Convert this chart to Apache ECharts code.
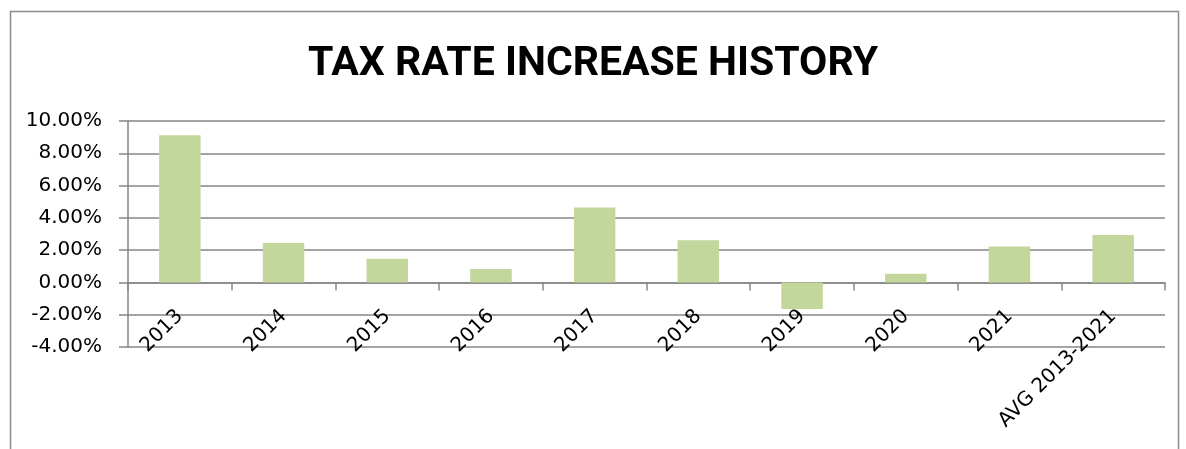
<!DOCTYPE html>
<html>
<head>
<meta charset="utf-8">
<script src="https://cdn.jsdelivr.net/npm/echarts@6/dist/echarts.min.js"></script>
<style>
html,body{margin:0;padding:0;background:#fff;}
#c{width:1186px;height:449px;}
</style>
</head>
<body>
<div id="c"></div>
<script>
const titleText = 'TAX RATE INCREASE HISTORY';
const categories = ['2013','2014','2015','2016','2017','2018','2019','2020','2021','AVG 2013-2021'];
const rates = [9.11, 2.45, 1.47, 0.83, 4.64, 2.61, -1.65, 0.54, 2.22, 2.94];
const yMin = -4, yMax = 10, yStep = 2;

const chart = echarts.init(document.getElementById('c'), null, {renderer:'canvas'});
chart.setOption({
  animation:false,
  backgroundColor:'#fff',
  graphic:[{type:'rect', left:8, top:9, shape:{width:1168, height:460}, style:{fill:'none', stroke:'#8c8c8c', lineWidth:1.5}, silent:true, z:-1}],
  title:{text:titleText, left:'center', top:39, textStyle:{fontFamily:'Roboto', fontWeight:'bold', fontSize:41, color:'#000'}},
  grid:{left:128, right:21, top:121, bottom:102, containLabel:false, outerBoundsMode:'none'},
  xAxis:{type:'category', data:categories,
    axisLine:{onZero:true, lineStyle:{color:'#868686', width:1.5}},
    axisTick:{show:true, alignWithLabel:false, length:8, lineStyle:{color:'#868686', width:1.5}},
    axisLabel:{interval:0, rotate:45, margin:-34, color:'#000', fontFamily:'DejaVu Sans', fontSize:20},
    splitLine:{show:false}},
  yAxis:{type:'value', min:yMin, max:yMax, interval:yStep,
    axisLine:{show:true, lineStyle:{color:'#868686', width:1.5}},
    axisTick:{show:true, length:9, lineStyle:{color:'#868686', width:1.5}},
    axisLabel:{formatter:v=>v.toFixed(2)+'%', margin:26, color:'#000', fontFamily:'DejaVu Sans', fontSize:20},
    splitLine:{show:true, lineStyle:{color:'#868686', width:1.5}}},
  series:[{type:'bar', data:rates, barCategoryGap:'60%', itemStyle:{color:'#c3d69b'}}]
});
</script>
</body>
</html>
